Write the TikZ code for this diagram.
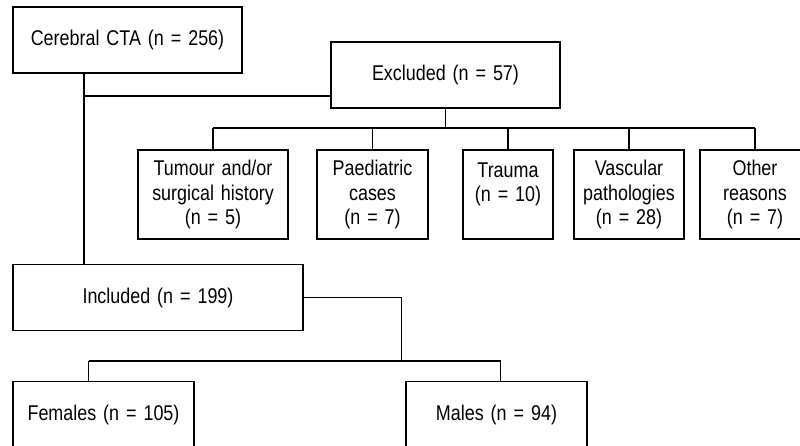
\documentclass[tikz,border=0pt]{standalone}
\usepackage{fontspec}
\setmainfont[FakeStretch=0.84,WordSpace=1.4]{Liberation Sans}
\usepackage{tikz}

\begin{document}
\begin{tikzpicture}[x=0.75pt,y=-0.75pt]
    \tikzset{
      flowbox/.style={rectangle,draw=black,line width=0.9pt,inner sep=0pt,align=center,font=\fontsize{16}{18.6}\selectfont},
      headbox/.style={flowbox,minimum width=171.75pt,minimum height=49.5pt},
      causebox/.style={flowbox,minimum height=66.75pt},
      groupbox/.style={flowbox,minimum width=135.75pt,minimum height=49.5pt},
      link/.style={draw=black,line width=0.9pt}
    }
    \useasboundingbox (0,0) rectangle (800,446);

    \node[headbox](cta) at (127.5,40){Cerebral CTA (n = 256)};
    \node[headbox](excl) at (445.5,75){Excluded (n = 57)};
    \node[causebox,minimum width=112.5pt](tumour) at (213,194.5){Tumour and/or\\surgical history\\(n = 5)};
    \node[causebox,minimum width=83.25pt](paed) at (372.5,194.5){Paediatric\\cases\\(n = 7)};
    \node[causebox,minimum width=67.5pt](trauma) at (508,194.5){Trauma\\(n = 10)\\~};
    \node[causebox,minimum width=82.5pt](vasc) at (629,194.5){Vascular\\pathologies\\(n = 28)};
    \node[causebox,minimum width=82.5pt](other) at (755,194.5){Other\\reasons\\(n = 7)};
    \node[flowbox,minimum width=217.5pt,minimum height=49.1pt](incl) at (158,297.5){Included (n = 199)};
    \node[groupbox](fem) at (103.5,414.7){Females (n = 105)};
    \node[groupbox](male) at (496.5,414.7){Males (n = 94)};

    % trunk and branch to the excluded box
    \coordinate (trunk) at (84,96);
    \draw[link](trunk |- cta.south) -- (trunk |- incl.north);
    \draw[link](trunk) -- (trunk -| excl.west);

    % reasons for exclusion
    \coordinate (exbus) at (445.5,128);
    \draw[link](excl.south) -- (exbus);
    \draw[link](tumour.north |- exbus) -- (other.north |- exbus);
    \foreach \why in {tumour,paed,trauma,vasc,other}
      \draw[link](\why.north) -- (\why.north |- exbus);

    % split by sex
    \coordinate (sexbus) at (401.7,361);
    \coordinate (femtap) at (88.7,361);
    \coordinate (maletap) at (500.5,361);
    \draw[link](incl.east) -| (sexbus);
    \draw[link](femtap) -- (maletap);
    \draw[link](femtap) -- (femtap |- fem.north);
    \draw[link](maletap) -- (maletap |- male.north);

  \end{tikzpicture}
\end{document}
